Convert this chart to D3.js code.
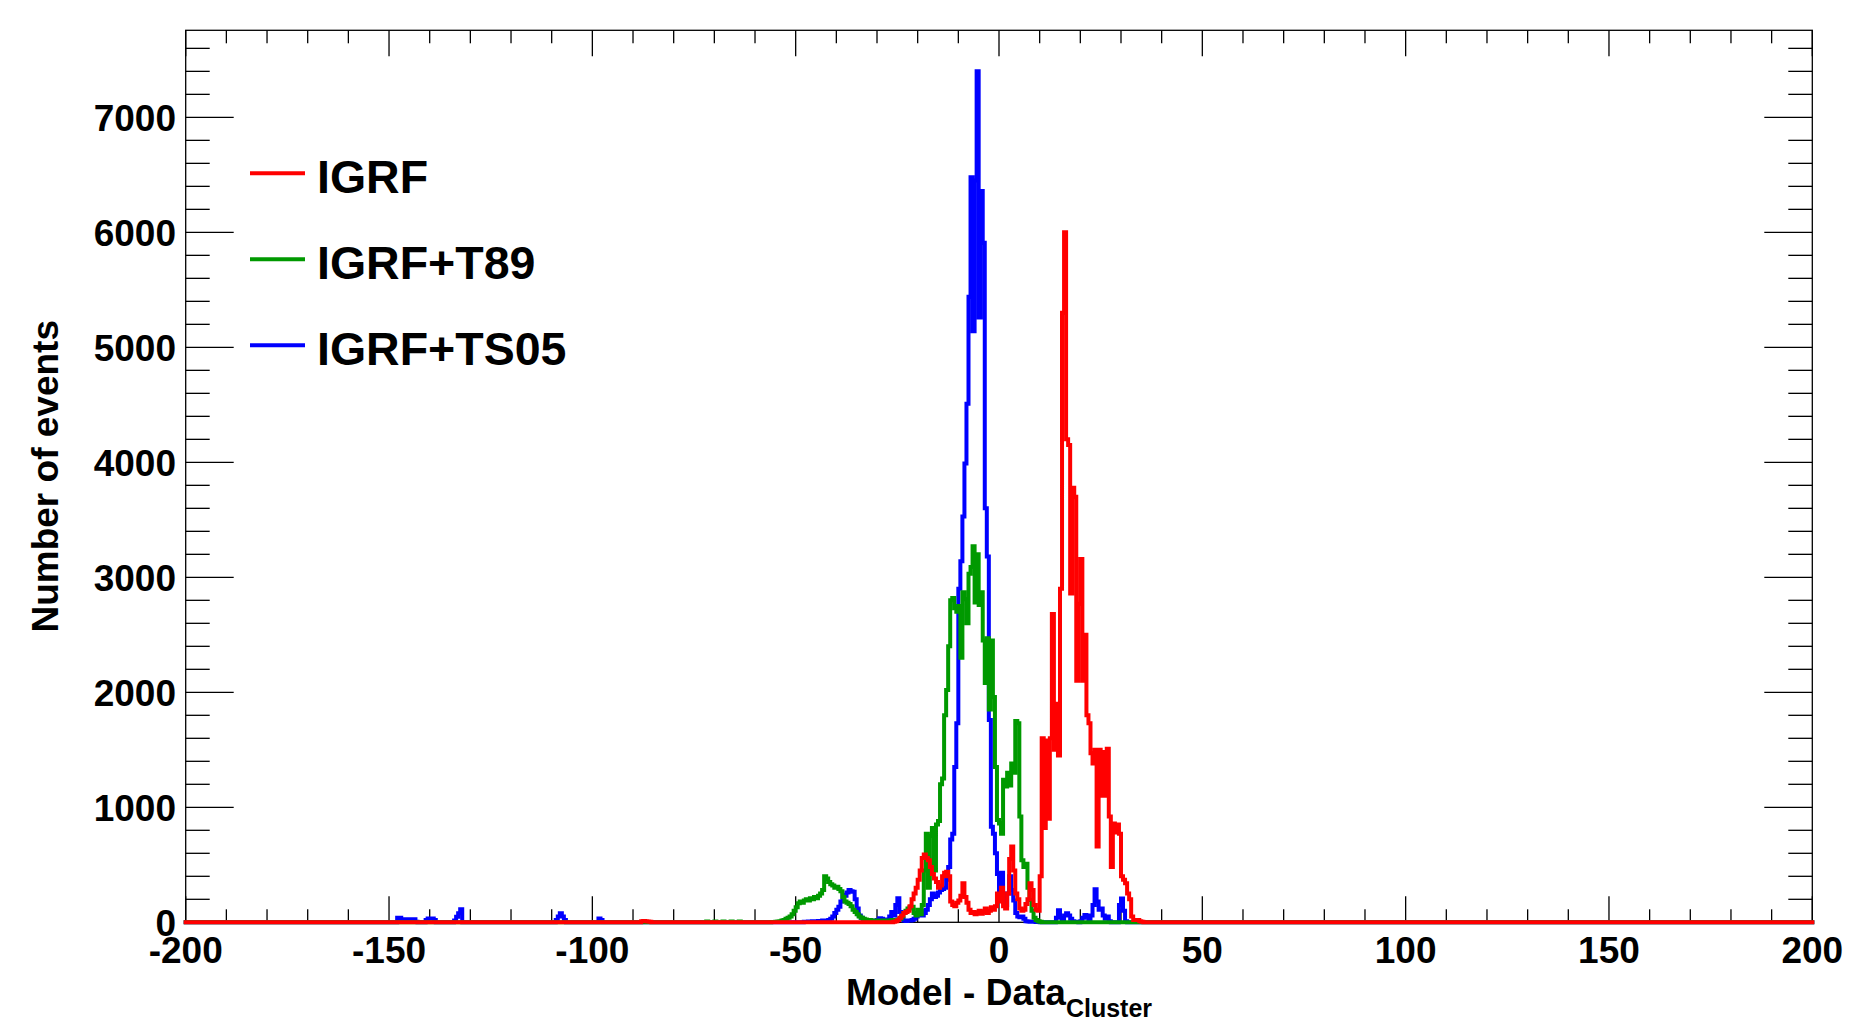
<!DOCTYPE html>
<html><head><meta charset="utf-8">
<script src="https://cdn.jsdelivr.net/npm/d3@7"></script>
<style>
body{margin:0;background:#fff}
svg{display:block}
text{font-family:"Liberation Sans",Arial,Helvetica,sans-serif;font-weight:bold;fill:#000}
</style>
</head><body>
<svg id="chart" width="1859" height="1028"></svg>
<script>
// ---------------- data ----------------
const BIN_WIDTH = 0.5;
const X_DOMAIN = [-200, 200];
const Y_MAX = 7757;
const xMajorTicks = [-200, -150, -100, -50, 0, 50, 100, 150, 200];
const xTickLabels = ["-200", "-150", "-100", "-50", "0", "50", "100", "150", "200"];
const yMajorTicks = [0, 1000, 2000, 3000, 4000, 5000, 6000, 7000];
const yTickLabels = ["0", "1000", "2000", "3000", "4000", "5000", "6000", "7000"];
const seriesNames = ["IGRF", "IGRF+T89", "IGRF+TS05"];
const seriesColors = ["#ff0000", "#009900", "#0000ff"];
const xTitle = "Model - Data";
const xTitleSub = "Cluster";
const yTitle = "Number of events";

// IGRF (red): counts per 0.5-wide bin starting at redStart
const redStart = -26;
const redCounts = [
  5, 10, 20, 40, 60, 80, 90, 100,            // -26 .. -22.5
  140, 200, 250, 300, 370, 450, 560, 590,    // -22 .. -18.5
  560, 540, 480, 420, 380, 350, 300, 320,    // -18 .. -14.5
  400, 430, 440, 400, 180, 150, 140, 170,    // -14 .. -10.5
  190, 230, 340, 220, 170, 110, 80, 90,      // -10 .. -6.5
  70, 80, 100, 75, 90, 120, 80, 100,         // -6 .. -2.5
  130, 110, 140, 250, 180, 300, 140, 120,    // -2 .. 1.5
  250, 550, 660, 450, 250, 200, 120, 100,    // 2 .. 5.5
  110, 160, 200, 340, 280, 150, 110, 100,    // 6 .. 9.5
  400, 1600, 820, 1580, 900, 1600, 2680, 1500, // 10 .. 13.5
  1900, 1450, 2900, 5300, 6000, 4200, 4150, 2860, // 14 .. 17.5
  3780, 3700, 2100, 2770, 3160, 2100, 2500, 1800, // 18 .. 21.5
  1730, 1470, 1380, 1500, 660, 1500, 1100, 1480,  // 22 .. 25.5
  1100, 1510, 920, 480, 860, 780, 850, 770,       // 26 .. 29.5
  400, 370, 340, 250, 200, 50, 20, 20,            // 30 .. 33.5
  20, 10, 5, 0                                    // 34 .. 35.5
];
const redSmallStart = -88;
const redSmallCounts = [10, 12, 10, 8, 5];

// IGRF+T89 (green)
const greenStart = -56;
const greenCounts = [
  2, 3, 5, 8, 10, 15, 20, 30,                // -56 .. -52.5
  40, 50, 70, 100, 130, 165, 180, 170,       // -52 .. -48.5
  190, 200, 190, 210, 200, 220, 210, 230,    // -48 .. -44.5
  250, 280, 400, 380, 350, 330, 320, 300,    // -44 .. -40.5
  310, 290, 270, 220, 180, 170, 160, 140,    // -40 .. -36.5
  110, 90, 70, 50, 40, 30, 25, 20,           // -36 .. -32.5
  20, 15, 15, 12, 15, 12, 15, 15,            // -32 .. -28.5
  12, 15, 15, 20, 18, 20, 25, 30,            // -28 .. -24.5
  50, 80, 100, 120, 130, 135, 80, 60,        // -24 .. -20.5
  110, 70, 150, 450, 770, 300, 750, 820,     // -20 .. -16.5
  450, 850, 880, 1200, 1250, 1800, 2020, 2400, // -16 .. -12.5
  2800, 2820, 2730, 2700, 2750, 2300, 2870, 2810, // -12 .. -8.5
  2600, 3030, 3090, 3270, 2780, 3200, 2760, 2870, // -8 .. -4.5
  2450, 2080, 2470, 1850, 2450, 1960, 1350, 890,  // -4 .. -0.5
  860, 770, 1240, 1180, 1300, 1190, 1380, 1300,   // 0 .. 3.5
  1750, 1730, 920, 540, 480, 510, 300, 194,       // 4 .. 7.5
  100, 40, 20, 10, 5, 0                           // 8 .. 10.5
];
const greenSmallStart = -72;
const greenSmallCounts = [6, 0, 0, 0, 8, 0, 0, 0, 6, 0, 0, 0, 8, 0, 0, 0, 6];

// IGRF+TS05 (blue)
const blueStart = -48;
const blueCounts = [
  5, 5, 8, 8, 10, 8, 10, 12,                 // -48 .. -44.5
  10, 15, 12, 15, 20, 30, 50, 80,            // -44 .. -40.5
  110, 135, 180, 240, 230, 260, 280, 270,    // -40 .. -36.5
  265, 200, 120, 60, 40, 20, 15, 12,         // -36 .. -32.5
  15, 10, 15, 12, 20, 35, 30, 20,            // -32 .. -28.5
  15, 25, 50, 90, 60, 150, 210, 90,          // -28 .. -24.5
  30, 15, 12, 15, 15, 20, 30, 50,            // -24 .. -20.5
  70, 100, 60, 80, 110, 150, 200, 250,       // -20 .. -16.5
  220, 230, 260, 280, 290, 300, 370, 480,    // -16 .. -12.5
  720, 770, 1350, 1730, 2900, 3140, 3530, 3990, // -12 .. -8.5
  4510, 5440, 6480, 5140, 6450, 7400, 5260, 6360, // -8 .. -4.5
  5910, 3600, 3180, 1760, 830, 770, 600, 420,     // -4 .. -0.5
  250, 430, 250, 150, 250, 400, 280, 190,         // 0 .. 3.5
  80, 50, 45, 50, 30, 10, 8, 5,                   // 4 .. 7.5
  5, 5, 3, 2, 0, 0, 0, 0,                         // 8 .. 11.5
  0, 0, 0, 0, 40, 105, 40, 20,                    // 12 .. 15.5
  60, 78, 60, 30, 10, 5, 5, 0,                    // 16 .. 19.5
  10, 40, 64, 50, 20, 60, 150, 287,               // 20 .. 23.5
  180, 110, 120, 60, 30, 50, 10, 0,               // 24 .. 27.5
  0, 0, 0, 150, 208, 100, 10, 0                   // 28 .. 31.5
];
const blueOutlierStarts = [-148, -141, -134, -109, -98.5];
const blueOutlierCounts = [
  [40, 40, 26, 26, 26, 10, 26, 26, 26, 5],
  [20, 34, 34, 34, 20],
  [15, 49, 78, 113, 0],
  [20, 50, 78, 50, 20],
  [34, 20]
];

// ---------------- layout ----------------
const M = {left: 185.7, right: 1812.3, top: 30.3, bottom: 922.3};
const svg = d3.select("#chart");
const x = d3.scaleLinear().domain(X_DOMAIN).range([M.left, M.right]);
const y = d3.scaleLinear().domain([0, Y_MAX]).range([M.bottom, M.top]);

// build full histogram
const nBins = Math.round((X_DOMAIN[1] - X_DOMAIN[0]) / BIN_WIDTH);
function buildHist(segments) {
  const counts = new Array(nBins).fill(0);
  segments.forEach(([start, arr]) => {
    arr.forEach((c, i) => {
      const idx = Math.round((start + i * BIN_WIDTH - X_DOMAIN[0]) / BIN_WIDTH);
      if (idx >= 0 && idx < nBins) counts[idx] = c;
    });
  });
  const pts = counts.map((c, i) => [X_DOMAIN[0] + i * BIN_WIDTH, c]);
  pts.push([X_DOMAIN[1], counts[nBins - 1]]);
  return pts;
}
const histRed = buildHist([[redSmallStart, redSmallCounts], [redStart, redCounts]]);
const histGreen = buildHist([[greenSmallStart, greenSmallCounts], [greenStart, greenCounts]]);
const histBlue = buildHist(blueOutlierStarts.map((s, i) => [s, blueOutlierCounts[i]]).concat([[blueStart, blueCounts]]));

// frame
svg.append("rect").attr("x", M.left).attr("y", M.top)
  .attr("width", M.right - M.left).attr("height", M.bottom - M.top)
  .attr("fill", "none").attr("stroke", "#000").attr("stroke-width", 1.3);

const tickG = svg.append("g").attr("stroke", "#000").attr("stroke-width", 1.3);
// x ticks (bottom & top)
const xMinor = d3.range(X_DOMAIN[0], X_DOMAIN[1] + 1, 10);
xMinor.forEach(v => {
  const major = xMajorTicks.includes(v);
  const len = major ? 26 : 13;
  tickG.append("line").attr("x1", x(v)).attr("x2", x(v)).attr("y1", M.bottom).attr("y2", M.bottom - len);
  tickG.append("line").attr("x1", x(v)).attr("x2", x(v)).attr("y1", M.top).attr("y2", M.top + len);
});
// y ticks (left & right)
const yMinor = d3.range(0, Y_MAX, 200);
yMinor.forEach(v => {
  const major = yMajorTicks.includes(v);
  const len = major ? 48 : 24;
  tickG.append("line").attr("y1", y(v)).attr("y2", y(v)).attr("x1", M.left).attr("x2", M.left + len);
  tickG.append("line").attr("y1", y(v)).attr("y2", y(v)).attr("x1", M.right).attr("x2", M.right - len);
});

// histograms
const line = d3.line().x(d => x(d[0])).y(d => y(d[1])).curve(d3.curveStepAfter);
[[histBlue, seriesColors[2]], [histGreen, seriesColors[1]], [histRed, seriesColors[0]]].forEach(([h, col]) => {
  svg.append("path").datum(h).attr("d", line)
    .attr("fill", "none").attr("stroke", col).attr("stroke-width", 4)
    .attr("stroke-linejoin", "miter").attr("stroke-linecap", "square");
});

// tick labels
xMajorTicks.forEach((v, i) => {
  svg.append("text").attr("x", x(v)).attr("y", 963).attr("text-anchor", "middle")
    .attr("font-size", 37).text(xTickLabels[i]);
});
yMajorTicks.forEach((v, i) => {
  svg.append("text").attr("x", 176).attr("y", y(v) + 14).attr("text-anchor", "end")
    .attr("font-size", 37).text(yTickLabels[i]);
});

// axis titles
const xt = svg.append("text").attr("x", (M.left + M.right) / 2).attr("y", 1005)
  .attr("text-anchor", "middle").attr("font-size", 37);
xt.append("tspan").text(xTitle);
xt.append("tspan").attr("font-size", 25).attr("dy", 12).text(xTitleSub);

svg.append("text").attr("transform", `translate(58,${(M.top + M.bottom) / 2}) rotate(-90)`)
  .attr("text-anchor", "middle").attr("font-size", 37).text(yTitle);

// legend
const legendY = [173.3, 259.3, 345.3];
seriesNames.forEach((name, i) => {
  svg.append("line").attr("x1", 250).attr("x2", 305).attr("y1", legendY[i]).attr("y2", legendY[i])
    .attr("stroke", seriesColors[i]).attr("stroke-width", 4);
  svg.append("text").attr("x", 317).attr("y", legendY[i] + 20).attr("font-size", 46.5).text(name);
});
</script>
</body></html>
